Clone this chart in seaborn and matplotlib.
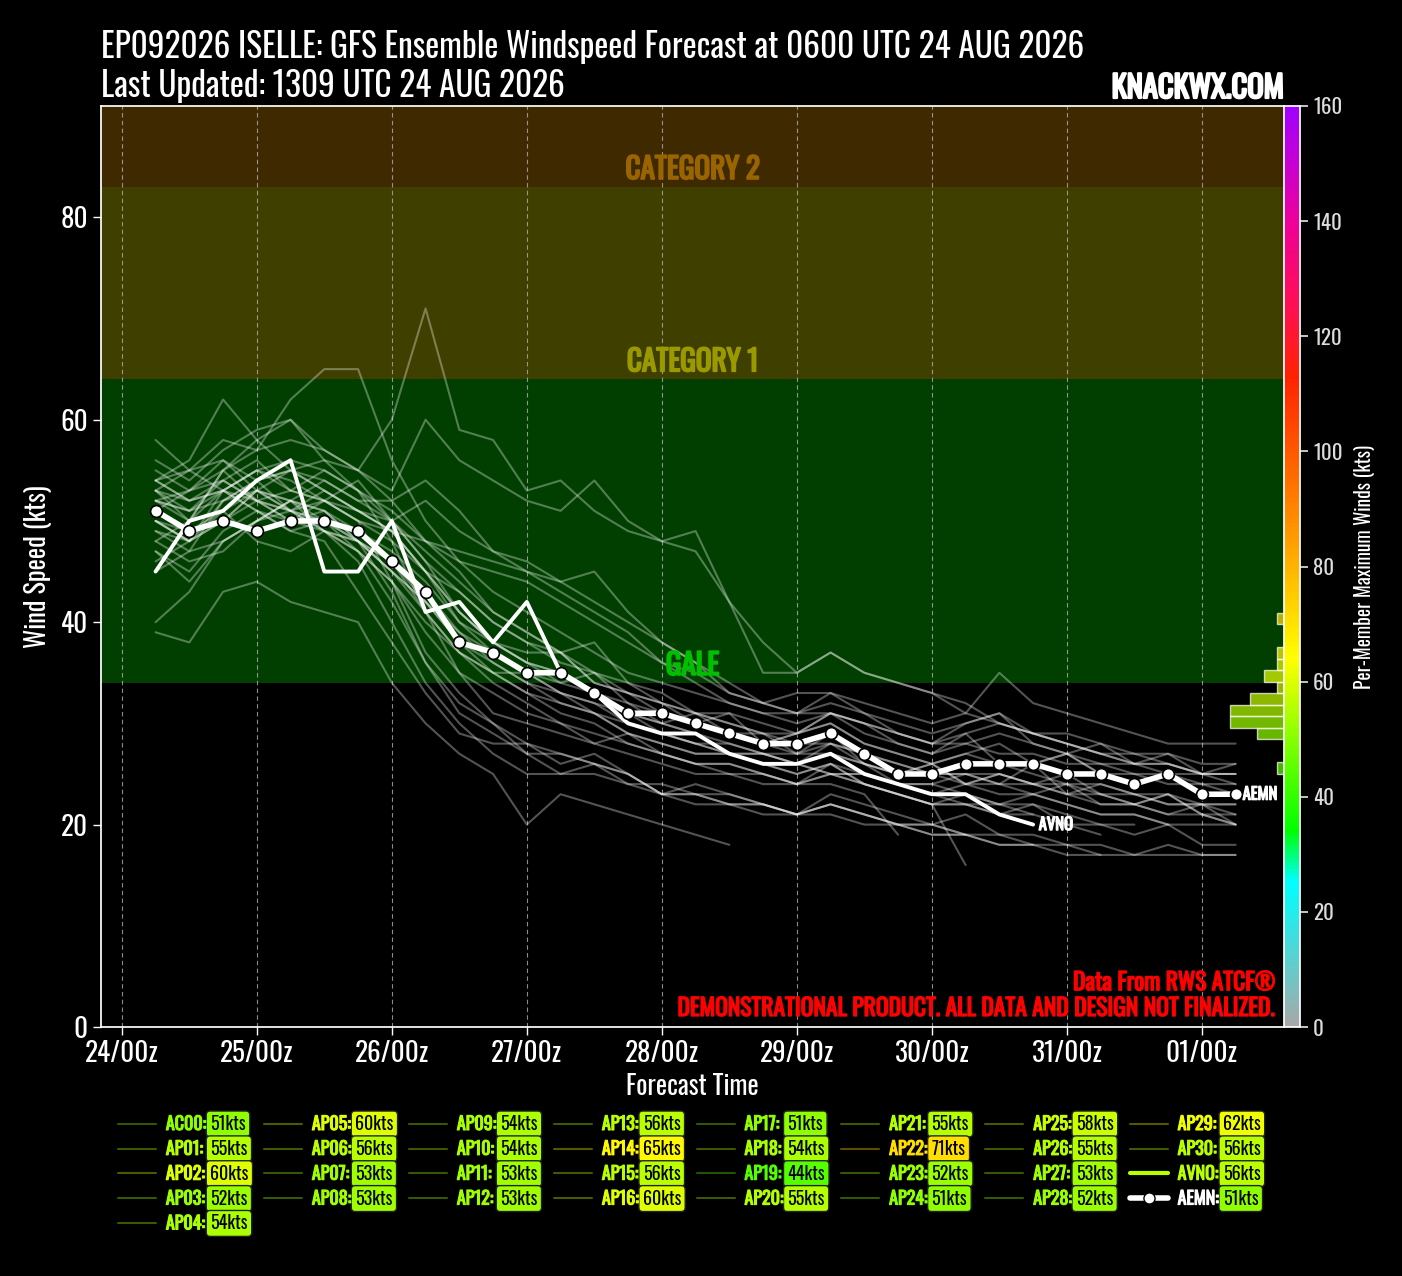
import numpy as np
import pandas as pd
import matplotlib
matplotlib.use("Agg")
import matplotlib.pyplot as plt
import matplotlib.font_manager as fm
from matplotlib import patheffects as pe
from matplotlib.colors import LinearSegmentedColormap, Normalize
from matplotlib.lines import Line2D
import seaborn as sns

# ---------------------------------------------------------------- data
day_labels = ["24/00z", "25/00z", "26/00z", "27/00z", "28/00z",
              "29/00z", "30/00z", "31/00z", "01/00z"]
step_h = 6          # forecast step (h), first point at +6h

members = {
    "AC00": [50, 49, 51, 48, 47, 49, 48, 45, 42, 38, 36, 34, 33, 31, 30, 29, 28, 28, 27, 26, 27, 26, 24, 24, 25, 25, 24, 23, 24, 23, 22, 22, 21],
    "AP01": [53, 50, 55, 52, 50, 51, 49, 47, 44, 40, 38, 36, 34, 35, 32, 30, 31, 29, 28, 27, 29, 26, 25, 26, 24, 25, 24, 25, 23, 22, 23, 21, 20],
    "AP02": [52, 50, 55, 58, 60, 56, 53, 50, 46, 41, 38, 36, 35, 33, 31, 30, 29, 27, 26, 25, 26, 24, 23, 22, 22, 21, 21, 20, 19],
    "AP03": [47, 44, 48, 50, 52, 49, 47, 42, 36, 31, 29, 27, 27, 26, 25, 23, 24, 23, 22, 21, 22, 21, 20, 20, 19, 19, 18, 18, 17, 17, 17, 17, 17],
    "AP04": [49, 47, 52, 54, 51, 50, 48, 46, 41, 37, 35, 35, 33, 32, 30, 29, 28, 27, 27, 26, 25, 25, 24, 23, 22, 22, 21],
    "AP05": [56, 54, 57, 59, 60, 57, 55, 52, 48, 45, 41, 39, 37, 34, 33, 32, 31, 30, 29, 29, 30, 28, 27, 26, 27, 26, 25, 24, 24, 23, 23, 22, 22],
    "AP06": [53, 52, 54, 56, 53, 52, 50, 49, 48, 47, 46, 45, 43, 41, 39, 36, 34, 32, 31, 30, 31, 29, 28, 27, 28, 29, 28, 27, 26, 26, 25, 24, 24],
    "AP07": [48, 50, 53, 51, 49, 50, 47, 44, 39, 35, 33, 31, 30, 29, 28, 27, 26, 26, 25, 24, 25, 24, 23, 22, 23, 22, 22, 21, 20, 20],
    "AP08": [51, 49, 50, 53, 51, 52, 50, 44, 37, 33, 30, 27, 25, 25, 24, 24, 23, 23, 22, 21, 22, 21, 20, 19, 19, 18, 18],
    "AP09": [52, 51, 54, 52, 51, 53, 51, 49, 45, 43, 40, 38, 37, 34, 33, 31, 30, 31, 28, 29, 31, 30, 28, 27, 29, 26, 26, 27, 25, 24, 25, 23, 23],
    "AP10": [54, 52, 53, 51, 50, 52, 54, 50, 46, 43, 40, 38, 36, 35, 34, 33, 31, 31, 30, 29, 31, 30, 29, 28, 28, 27, 27, 26, 26, 25, 25, 25, 24],
    "AP11": [46, 48, 50, 53, 52, 50, 48, 46, 43, 39, 36, 34, 32, 31, 29, 28, 27, 27, 26, 26, 25, 25, 24, 24, 23, 22, 23, 22, 21, 21, 20, 20, 20],
    "AP12": [50, 48, 51, 53, 51, 49, 46, 40, 34, 30, 27, 25, 25, 26, 25, 23, 22, 22, 21, 21, 22, 21, 20, 20, 19],
    "AP13": [55, 53, 56, 54, 55, 53, 51, 50, 52, 49, 47, 46, 44, 42, 40, 38, 36, 34, 32, 31, 31, 30, 29, 28, 29, 30, 29, 29, 28, 27, 27, 26, 26],
    "AP14": [52, 53, 55, 57, 62, 65, 65, 56, 50, 46, 43, 41, 39, 37, 35, 34, 33, 32, 31, 31, 32, 31, 30, 29, 30, 31, 29, 28, 27, 27, 26, 25, 25],
    "AP15": [54, 52, 53, 55, 56, 55, 53, 51, 48, 46, 45, 44, 42, 40, 38, 36, 35, 33, 32, 31, 33, 32, 31, 30, 31, 35, 32, 31, 30, 29, 28, 28, 28],
    "AP16": [53, 55, 58, 57, 58, 57, 55, 53, 60, 56, 54, 52, 51, 54, 50, 48, 47, 42, 38, 35, 37, 35, 34, 33, 31, 30, 29, 28, 27, 26, 26, 25, 25],
    "AP17": [47, 45, 49, 51, 49, 48, 43, 38, 33, 29, 28, 28, 27, 26, 24, 23, 23, 22, 22, 21, 21, 20, 20, 19, 19, 18, 18, 17, 17],
    "AP18": [51, 53, 54, 52, 51, 50, 49, 46, 42, 39, 37, 35, 33, 32, 31, 29, 28, 27, 27, 26, 28, 26, 25, 26, 24, 24, 23, 24, 22, 22, 21, 22, 20],
    "AP19": [39, 38, 43, 44, 42, 41, 40, 34, 30, 27, 25, 20, 23, 22, 21, 20, 19, 18],
    "AP20": [52, 51, 53, 55, 53, 52, 51, 49, 45, 41, 38, 36, 35, 33, 32, 31, 30, 29, 29, 27, 28, 27, 26, 25, 25, 24, 26, 23, 23, 22, 23, 21, 21],
    "AP21": [49, 48, 50, 52, 53, 55, 53, 48, 41, 35, 31, 30, 29, 28, 29, 27, 26, 25, 25, 24, 26, 24, 23, 22, 22, 21, 22, 20, 20, 19, 20, 18, 18],
    "AP22": [50, 48, 52, 53, 55, 56, 55, 60, 71, 59, 58, 53, 54, 51, 49, 48, 49, 42, 35, 35, 37, 35, 34, 33, 32, 30, 29, 28, 27, 26, 26, 25, 25],
    "AP23": [45, 47, 48, 50, 52, 51, 48, 45, 41, 37, 35, 33, 31, 30, 28, 27, 26, 26, 25, 24, 24, 23, 19],
    "AP24": [48, 46, 47, 50, 51, 49, 47, 44, 40, 37, 34, 32, 30, 28, 27, 26, 25, 25, 24, 24, 25, 24, 23, 22, 16],
    "AP25": [58, 55, 53, 55, 54, 52, 50, 48, 45, 40, 37, 35, 34, 33, 31, 30, 29, 28, 27, 27, 27, 26, 25, 25, 24, 23, 23, 22, 21, 21, 20],
    "AP26": [53, 51, 52, 54, 55, 53, 51, 49, 45, 41, 38, 37, 37, 38, 34, 32, 30, 29, 28, 29, 30, 28, 27, 26, 27, 28, 26, 27, 25, 25, 24, 24, 23],
    "AP27": [50, 48, 53, 52, 50, 49, 48, 43, 36, 32, 30, 28, 26, 27, 25, 23, 23, 22, 22, 21, 23, 22, 21, 20, 21, 19, 19, 18, 18, 17, 18, 17, 17],
    "AP28": [40, 43, 48, 50, 52, 51, 48, 45, 42, 38, 35, 33, 32, 31, 29, 28, 27, 27, 26, 25, 26, 25, 24, 23, 24, 25, 24, 24, 23, 23, 22, 22, 22],
    "AP29": [54, 56, 62, 58, 55, 54, 52, 50, 47, 44, 41, 39, 37, 35, 33, 32, 31, 30, 29, 28, 28, 27, 26, 25, 25, 24, 24, 23, 22, 22, 21, 21, 20],
    "AP30": [54, 55, 56, 53, 52, 54, 52, 52, 54, 51, 47, 45, 44, 45, 41, 38, 36, 33, 32, 33, 33, 31, 29, 28, 30, 31, 28, 27, 28, 26, 27, 25, 26],
}
avno = [45, 50, 51, 54, 56, 45, 45, 50, 41, 42, 38, 42, 35, 33, 30, 29, 29, 27, 26, 26, 27, 25, 24, 23, 23, 21, 20]
aemn = [51, 49, 50, 49, 50, 50, 49, 46, 43, 38, 37, 35, 35, 33, 31, 31, 30, 29, 28, 28, 29, 27, 25, 25, 26, 26, 26, 25, 25, 24, 25, 23, 23]

# (label, low, high, band colour, label colour)
bands = [("GALE", 34, 64, "#00ff00", "#00c000"),
         ("CATEGORY 1", 64, 83, "#ffff00", "#9a9a00"),
         ("CATEGORY 2", 83, 200, "#ffa500", "#9a6400")]

# ---------------------------------------------------------------- style
sns.set_theme(style="ticks")
avail = {f.name for f in fm.fontManager.ttflist}
cond = next((f for f in ["Oswald", "Roboto Condensed", "Liberation Sans Narrow",
                         "Open Sans Condensed", "Noto Sans", "DejaVu Sans"]
             if f in avail), "DejaVu Sans")
plt.rcParams["font.family"] = [cond, "DejaVu Sans"]
plt.rcParams.update({"figure.facecolor": "black", "axes.facecolor": "black",
                     "savefig.facecolor": "black", "text.color": "white",
                     "axes.labelcolor": "white", "xtick.color": "white",
                     "ytick.color": "white", "axes.edgecolor": "white"})


def bold(col, w=1.0):
    # stroke outline to thicken glyphs
    return [pe.withStroke(linewidth=w, foreground=col)]


cmap = LinearSegmentedColormap.from_list("wind", [
    (0.0, "#a8a8a8"), (25 / 160, "#00ffff"), (34 / 160, "#00ff00"),
    (64 / 160, "#ffff00"), (83 / 160, "#ffa500"), (96 / 160, "#ff6a00"),
    (113 / 160, "#ff2200"), (125 / 160, "#ff1050"), (140 / 160, "#ee0099"),
    (150 / 160, "#c800d0"), (1.0, "#a000ff")])
norm = Normalize(0, 160)

# long table for members
rows = []
for name, vals in members.items():
    for i, v in enumerate(vals):
        rows.append((name, step_h * (i + 1), v))
df = pd.DataFrame(rows, columns=["member", "hour", "wind"])
h_avno = step_h * (np.arange(len(avno)) + 1)
h_aemn = step_h * (np.arange(len(aemn)) + 1)

fig = plt.figure(figsize=(14.02, 12.76), dpi=100)
L, B, W, H = 101 / 1402, 249 / 1276, 1183 / 1402, 921 / 1276
ax = fig.add_axes([L, B, W, H])

for lab, lo, hi, col, tcol in bands:
    ax.axhspan(lo, hi, color=col, alpha=0.25, lw=0, zorder=0)
    t = ax.text(0.5, lo + 0.3, lab, transform=ax.get_yaxis_transform(),
                ha="center", va="bottom", fontsize=21, fontweight="bold",
                color=tcol, zorder=2.5)
    t.set_path_effects(bold(tcol, 1.3))

day_hours = np.arange(len(day_labels)) * 24
for d in day_hours:
    ax.axvline(d, color="#b0b0b0", lw=0.8, ls=(0, (4, 3)), alpha=0.8, zorder=1.5)

sns.lineplot(data=df, x="hour", y="wind", units="member", estimator=None,
             color="white", alpha=0.33, lw=1.5, sort=False, legend=False,
             ax=ax, zorder=2)
sns.lineplot(x=h_avno, y=avno, color="white", lw=2.8, ax=ax, zorder=3)
sns.lineplot(x=h_aemn, y=aemn, color="white", lw=4, marker="o", markersize=8.5,
             markerfacecolor="white", markeredgecolor="black",
             markeredgewidth=1.2, ax=ax, zorder=4)
for nm, hh, vv, off in [("AVNO", h_avno, avno, 4), ("AEMN", h_aemn, aemn, 5)]:
    a = ax.annotate(nm, (hh[-1], vv[-1]), xytext=(off, 0),
                    textcoords="offset points", va="center", fontsize=12,
                    fontweight="bold", color="white", zorder=5)
    a.set_path_effects(bold("white", 0.9))

allmax = [max(v) for v in members.values()] + [max(avno), max(aemn)]
ax.set_xlim(-3.7, 206.6)
ax.set_ylim(0, max(allmax) + 20)
ax.set_xticks(day_hours)
ax.set_xticklabels(day_labels)
ax.set_yticks([0, 20, 40, 60, 80])
ax.tick_params(labelsize=19.5, length=6, width=1)
for lab in ax.get_xticklabels() + ax.get_yticklabels():
    lab.set_fontweight("light")
ax.set_xlabel("Forecast Time", fontsize=19, labelpad=4)
ax.set_ylabel("Wind Speed (kts)", fontsize=19, labelpad=6)
for s in ["left", "bottom", "top"]:
    ax.spines[s].set_color("white")
ax.spines["right"].set_visible(False)

for yy, txt in [(0.040, "Data From RWS ATCF®"),
                (0.012, "DEMONSTRATIONAL PRODUCT. ALL DATA AND DESIGN NOT FINALIZED.")]:
    t = ax.text(0.993, yy, txt, transform=ax.transAxes, ha="right",
                va="baseline", fontsize=17, fontweight="bold", color="red",
                zorder=6)
    t.set_path_effects(bold("red", 1.0))

# histogram of per-member max winds, on the colorbar scale
edges = np.arange(0, 162, 2)
counts, _ = np.histogram(allmax, bins=edges)
hax = ax.inset_axes([0, 0, 1, 1])
hax.set_facecolor("none")
hax.set_ylim(0, 160)
hax.set_xlim(1183 / 6.8, 0)
nz = counts > 0
hax.barh(edges[:-1][nz], counts[nz], height=2, align="edge",
         color=[cmap(norm(e + 1)) for e in edges[:-1][nz]], alpha=0.72,
         edgecolor=(1, 1, 1, 0.3), lw=1)
hax.axis("off")

# colorbar
cax = fig.add_axes([L + W, B, 16 / 1402, H])
sm = plt.cm.ScalarMappable(norm=norm, cmap=cmap)
cb = fig.colorbar(sm, cax=cax, ticks=np.arange(0, 161, 20))
cb.outline.set_edgecolor("white")
cb.ax.tick_params(labelsize=15, colors="#dddddd", length=6)
for lab in cb.ax.get_yticklabels():
    lab.set_fontweight("light")
cb.set_label("Per-Member Maximum Winds (kts)", fontsize=14, color="white",
             labelpad=8)

# titles
fig.text(L, 1 - 58 / 1276, "EP092026 ISELLE: GFS Ensemble Windspeed Forecast at 0600 UTC 24 AUG 2026",
         fontsize=24, va="baseline", ha="left")
fig.text(L, 1 - 97 / 1276, "Last Updated: 1309 UTC 24 AUG 2026",
         fontsize=24, va="baseline", ha="left")
k_t = fig.text(L + W, 1 - 98 / 1276, "KNACKWX.COM", fontsize=22,
               fontweight="bold", va="baseline", ha="right")
k_t.set_path_effects(bold("white", 1.6))

# legend
names = list(members.keys()) + ["AVNO", "AEMN"]
handles = [Line2D([], [], color=cmap(norm(max(v))), alpha=0.35, lw=1.5)
           for v in members.values()]
handles.append(Line2D([], [], color=cmap(norm(max(avno))), lw=3))
handles.append(Line2D([], [], color="white", lw=4, marker="o", markersize=8,
                      markerfacecolor="white", markeredgecolor="black"))
leg = fig.legend(handles, [n + ":" for n in names], ncol=8,
                 loc="upper left", bbox_to_anchor=(118 / 1402, 1 - 1115 / 1276),
                 frameon=False, fontsize=13, handlelength=2.1,
                 handletextpad=0.55, columnspacing=3.2, labelspacing=0.38,
                 borderpad=0, borderaxespad=0)
for t, v, n in zip(leg.get_texts(), allmax, names):
    c = "white" if n == "AEMN" else cmap(norm(v))
    t.set_fontweight("bold")
    t.set_color(c)
    t.set_path_effects(bold(c, 0.8))

fig.canvas.draw()
r = fig.canvas.get_renderer()
texts = leg.get_texts()
per_col = [5] + [4] * 7
inv = fig.transFigure.inverted()
k = 0
for n_in in per_col:
    group = list(range(k, k + n_in))
    xr = max(texts[j].get_window_extent(r).x1 for j in group)
    for j in group:
        bb = texts[j].get_window_extent(r)
        fx, fy = inv.transform((xr + 4, (bb.y0 + bb.y1) / 2))
        fig.text(fx, fy, f"{allmax[j]}kts", ha="left", va="center",
                 fontsize=13, color="black",
                 bbox=dict(boxstyle="round,pad=0.22", fc=cmap(norm(allmax[j])),
                           ec="#222222", lw=1))
    k += n_in

fig.savefig("out.png", dpi=100)
